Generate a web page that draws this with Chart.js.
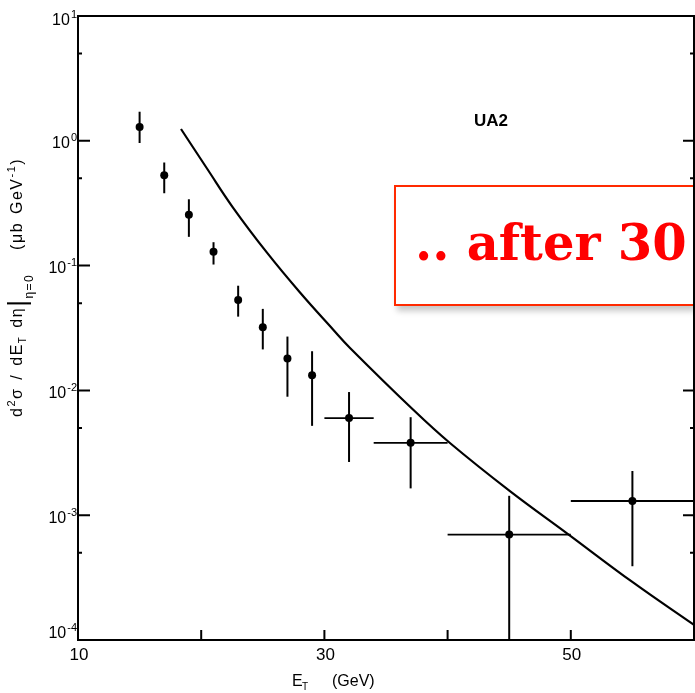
<!DOCTYPE html>
<html>
<head>
<meta charset="utf-8">
<script src="https://cdn.jsdelivr.net/npm/chart.js@4/dist/chart.umd.min.js"></script>
<style>
  html, body { margin:0; padding:0; background:#fff; overflow:hidden; }
  #wrap { position:relative; width:695px; height:693px; overflow:hidden; }
  #c { position:absolute; left:0; top:0; }
  #note { position:absolute; left:394px; top:185px; width:297px; height:117px;
          border:2px solid #ff2a00; border-right:none; background:#fff;
          box-shadow: 3px 5px 6px rgba(0,0,0,0.22); }
  #note span { position:absolute; left:19px; top:32px; font-family:'DejaVu Serif', serif;
          font-weight:bold; font-size:49.5px; line-height:49px; color:#ff0000; white-space:nowrap; }
</style>
</head>
<body>
<div id="wrap">
  <canvas id="c" width="695" height="693"></canvas>
  <div id="note"><span>.. after 30</span></div>
</div>
<script>
// ---- data ----
const ptX   = [15, 17, 19, 21, 23, 25, 27, 29, 32, 37, 45, 55];
const ptY   = [1.29, 0.53, 0.255, 0.129, 0.053, 0.032, 0.018, 0.0132, 0.006, 0.0038, 0.0007, 0.0013];
const ptYHi = [1.71, 0.67, 0.34, 0.154, 0.069, 0.045, 0.027, 0.0206, 0.0097, 0.0061, 0.00143, 0.00226];
const ptYLo = [0.96, 0.38, 0.17, 0.102, 0.039, 0.0213, 0.0089, 0.0052, 0.00267, 0.00164, 0.00001, 0.00039];
const ptXLo = [null, null, null, null, null, null, null, null, 30, 34, 40, 50];
const ptXHi = [null, null, null, null, null, null, null, null, 34, 40, 50, 60];

const curveX = [18.36, 20.47, 22.58, 25.34, 28.02, 30.70, 32.08, 37.19, 40.19, 45.06, 49.69, 55.05, 60.0];
const curveY = [1.243, 0.600, 0.292, 0.127, 0.0609, 0.0308, 0.0219, 0.00703, 0.00379, 0.00156, 0.000716, 0.000289, 0.000132];

const xMajorTicks = [20, 30, 40, 50];
const xTickLabels = ['10', '30', '50'];
const xTickLabelVals = [10, 30, 50];
const yMajorExps = [1, 0, -1, -2, -3, -4];
const yTickLabels = ['1', '0', '-1', '-2', '-3', '-4'];
const yMinorTicks = [5, 0.5, 0.05, 0.005, 0.0005];

const FONT = "'Liberation Sans', Arial, sans-serif";

const errorBars = {
  id: 'errorBars',
  beforeDatasetsDraw(chart) {
    const {ctx, chartArea: a, scales: {x, y}} = chart;
    ctx.save();
    ctx.beginPath(); ctx.rect(a.left, a.top, a.right - a.left, a.bottom - a.top); ctx.clip();
    ctx.strokeStyle = '#000'; ctx.lineCap = 'butt';
    for (let i = 0; i < ptX.length; i++) {
      const px = x.getPixelForValue(ptX[i]);
      const py = y.getPixelForValue(ptY[i]);
      ctx.lineWidth = 2;
      ctx.beginPath();
      ctx.moveTo(px, y.getPixelForValue(ptYHi[i]));
      ctx.lineTo(px, Math.min(y.getPixelForValue(ptYLo[i]), a.bottom + 5));
      ctx.stroke();
      if (ptXLo[i] !== null) {
        ctx.lineWidth = 1.8;
        ctx.beginPath();
        ctx.moveTo(x.getPixelForValue(ptXLo[i]), py);
        ctx.lineTo(x.getPixelForValue(ptXHi[i]), py);
        ctx.stroke();
      }
    }
    ctx.restore();
  }
};

function drawRuns(ctx, runs, spacing) {
  let cx = 0;
  for (const r of runs) {
    ctx.font = (r.w || 'normal') + ' ' + r.f + 'px ' + FONT;
    for (const ch of r.t) {
      ctx.fillText(ch, cx, r.dy || 0);
      cx += ctx.measureText(ch).width + spacing + (ch === ' ' ? (r.sp || 0) : 0);
    }
  }
  return cx;
}

const frame = {
  id: 'frame',
  afterDraw(chart) {
    const {ctx, chartArea: a, scales: {x, y}} = chart;
    ctx.save();
    ctx.strokeStyle = '#000'; ctx.fillStyle = '#000';
    ctx.lineWidth = 2;
    ctx.strokeRect(a.left, a.top, a.right - a.left, a.bottom - a.top);
    // y ticks
    ctx.beginPath();
    for (const e of yMajorExps) {
      const py = y.getPixelForValue(Math.pow(10, e));
      ctx.moveTo(a.left, py); ctx.lineTo(a.left + 12, py);
      ctx.moveTo(a.right, py); ctx.lineTo(a.right - 11, py);
    }
    for (const v of yMinorTicks) {
      const py = y.getPixelForValue(v);
      ctx.moveTo(a.left, py); ctx.lineTo(a.left + 4, py);
      ctx.moveTo(a.right, py); ctx.lineTo(a.right - 4, py);
    }
    for (const v of xMajorTicks) {
      const px = x.getPixelForValue(v);
      ctx.moveTo(px, a.bottom); ctx.lineTo(px, a.bottom - 10);
    }
    ctx.stroke();

    // x tick labels
    ctx.font = '17px ' + FONT;
    ctx.textAlign = 'center'; ctx.textBaseline = 'alphabetic';
    xTickLabelVals.forEach((v, i) => {
      ctx.fillText(xTickLabels[i], x.getPixelForValue(v) + 1, 660);
    });

    // y tick labels 10^n
    yMajorExps.forEach((e, i) => {
      const py = y.getPixelForValue(Math.pow(10, e));
      const c = Math.max(19, Math.min(632, py + 1.5));
      ctx.textAlign = 'right';
      ctx.font = '11px ' + FONT;
      const ew = ctx.measureText(yTickLabels[i]).width;
      ctx.fillText(yTickLabels[i], 77, c - 1);
      ctx.font = '16px ' + FONT;
      ctx.fillText('10', 77 - ew - 1, c + 6);
    });

    // UA2
    ctx.textAlign = 'left';
    ctx.font = 'bold 17px ' + FONT;
    ctx.fillText('UA2', 474, 126);

    // x title
    ctx.font = '16px ' + FONT;
    ctx.fillText('E', 292, 686);
    ctx.font = '10px ' + FONT;
    ctx.fillText('T', 302, 690);
    ctx.font = '16px ' + FONT;
    ctx.fillText('(GeV)', 332, 686);

    // y title (rotated)
    ctx.save();
    ctx.translate(22, 417);
    ctx.rotate(-Math.PI / 2);
    ctx.textAlign = 'left';
    drawRuns(ctx, [
      {t: 'd', f: 16},
      {t: '2', f: 11, dy: -7},
      {t: 'σ / dE', f: 16, sp: 2},
      {t: 'T', f: 10, dy: 4},
      {t: ' dη', f: 16, sp: 2},
      {t: '|', f: 26, dy: 4},
      {t: 'η=0', f: 12, dy: 11},
      {t: '   (μb GeV', f: 16, sp: 2},
      {t: '-1', f: 11, dy: -7},
      {t: ')', f: 16}
    ], 1.5);
    ctx.restore();
    ctx.restore();
  }
};

new Chart(document.getElementById('c'), {
  type: 'scatter',
  data: {
    datasets: [
      {
        type: 'line',
        data: curveX.map((v, i) => ({x: v, y: curveY[i]})),
        borderColor: '#000', borderWidth: 2.2, pointRadius: 0,
        tension: 0.4, fill: false
      },
      {
        type: 'scatter',
        data: ptX.map((v, i) => ({x: v, y: ptY[i]})),
        backgroundColor: '#000', borderColor: '#000', pointRadius: 4, borderWidth: 0
      }
    ]
  },
  options: {
    responsive: false, animation: false, devicePixelRatio: 1,
    layout: {autoPadding: false, padding: {left: 0, right: 1, top: 16, bottom: 0}},
    plugins: {legend: {display: false}, tooltip: {enabled: false}},
    scales: {
      x: {type: 'linear', min: 10, max: 60,
          ticks: {display: false}, grid: {display: false}, border: {display: false},
          afterFit(s) { s.height = 53; }},
      y: {type: 'logarithmic', min: 1e-4, max: 10,
          ticks: {display: false}, grid: {display: false}, border: {display: false},
          afterFit(s) { s.width = 78; }}
    }
  },
  plugins: [errorBars, frame]
});
</script>
</body>
</html>
